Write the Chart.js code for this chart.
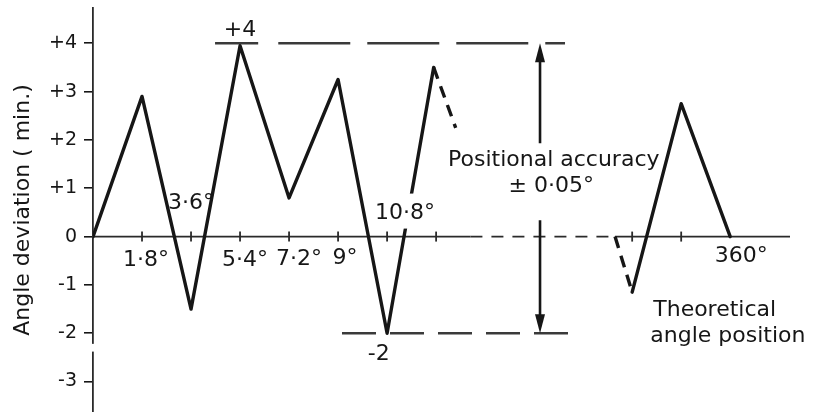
<!DOCTYPE html>
<html>
<head>
<meta charset="utf-8">
<script src="https://cdn.jsdelivr.net/npm/chart.js@4/dist/chart.umd.min.js"></script>
<style>
  html, body { margin: 0; padding: 0; background: #fff; }
  #wrap { width: 829px; height: 412px; position: relative; }
</style>
</head>
<body>
<div id="wrap"><canvas id="stepChart"></canvas></div>
<script>
// x positions are in 1.8° steps from the origin; 13 steps end at 360°
const firstRunX = [0, 1, 2, 3, 4, 5, 6, 6.95];
const firstRunY = [0, 2.9, -1.5, 3.95, 0.8, 3.25, -2, 3.5];
const fadeOutX = [6.95, 7.4];
const fadeOutY = [3.5, 2.25];
const fadeInX = [10.65, 11];
const fadeInY = [0, -1.15];
const lastRunX = [11, 12, 13];
const lastRunY = [-1.15, 2.75, 0];

const stepTicks = [1, 2, 3, 4, 5, 6, 7, 11, 12];
const degreeLabels = ['1·8°', '3·6°', '5·4°', '7·2°', '9°', '10·8°', '360°'];
const devTicks = [4, 3, 2, 1, 0, -1, -2, -3];

const upperLimit = 4;
const lowerLimit = -2;

function pts(xs, ys) {
    return xs.map((x, i) => ({ x: x, y: ys[i] }));
}

const FONT = '"DejaVu Sans", sans-serif';
const INK = '#161616';

const overlay = {
    id: 'overlay',
    beforeDatasetsDraw(chart) {
        const ctx = chart.ctx;
        const xs = chart.scales.x, ys = chart.scales.y;
        const X = v => xs.getPixelForValue(v);
        const Y = v => ys.getPixelForValue(v);
        const y0 = Y(0);

        ctx.save();
        ctx.strokeStyle = '#2a2a2a';
        ctx.lineWidth = 1.6;

        // abscissa: solid, broken (dashed) middle, solid again up to 360°
        ctx.beginPath();
        ctx.moveTo(X(0), y0); ctx.lineTo(X(7.7), y0);
        ctx.stroke();
        ctx.setLineDash([12, 9]);
        ctx.beginPath();
        ctx.moveTo(X(7.7), y0); ctx.lineTo(X(10.65), y0);
        ctx.stroke();
        ctx.setLineDash([]);
        ctx.beginPath();
        ctx.moveTo(X(10.65), y0); ctx.lineTo(X(14.22), y0);
        ctx.stroke();

        // step tick marks
        ctx.lineWidth = 1.8;
        stepTicks.forEach(t => {
            ctx.beginPath();
            ctx.moveTo(X(t), y0 - 5); ctx.lineTo(X(t), y0 + 5);
            ctx.stroke();
        });

        // small break in the ordinate below -2
        ctx.fillStyle = '#fff';
        ctx.fillRect(X(0) - 4, Y(-2.22), 8, Y(-2.38) - Y(-2.22));

        // accuracy band: +4 and -2 lines
        ctx.strokeStyle = '#3a3a3a';
        ctx.lineWidth = 2.4;
        ctx.beginPath();
        ctx.moveTo(X(2.49), Y(upperLimit)); ctx.lineTo(X(3.37), Y(upperLimit));
        ctx.stroke();
        ctx.setLineDash([72, 17]);
        ctx.beginPath();
        ctx.moveTo(X(3.78), Y(upperLimit)); ctx.lineTo(X(9.63), Y(upperLimit));
        ctx.stroke();
        ctx.setLineDash([34, 14]);
        ctx.beginPath();
        ctx.moveTo(X(5.08), Y(lowerLimit)); ctx.lineTo(X(9.73), Y(lowerLimit));
        ctx.stroke();
        ctx.setLineDash([]);

        // double arrow for the band, broken for its caption
        const ax = X(9.12);
        ctx.strokeStyle = INK;
        ctx.fillStyle = INK;
        ctx.lineWidth = 2.6;
        ctx.beginPath();
        ctx.moveTo(ax, Y(upperLimit) + 10); ctx.lineTo(ax, Y(1.93));
        ctx.moveTo(ax, Y(0.34)); ctx.lineTo(ax, Y(lowerLimit) - 10);
        ctx.stroke();
        [[Y(upperLimit), 1], [Y(lowerLimit), -1]].forEach(([tip, d]) => {
            ctx.beginPath();
            ctx.moveTo(ax, tip);
            ctx.lineTo(ax - 5, tip + d * 19);
            ctx.lineTo(ax + 5, tip + d * 19);
            ctx.closePath();
            ctx.fill();
        });
        ctx.restore();
    },
    afterDatasetsDraw(chart) {
        const ctx = chart.ctx;
        const xs = chart.scales.x, ys = chart.scales.y;
        const X = v => xs.getPixelForValue(v);
        const Y = v => ys.getPixelForValue(v);
        const y0 = Y(0);

        ctx.save();
        ctx.fillStyle = INK;
        ctx.font = '22px ' + FONT;
        ctx.textBaseline = 'middle';
        ctx.textAlign = 'center';

        // degree labels under / beside the steps
        const spots = [
            [X(1) + 4, y0 + 24], [X(2), y0 - 33], [X(3) + 5, y0 + 24],
            [X(4) + 10, y0 + 23], [X(5) + 7, y0 + 22], [X(6) + 18, y0 - 23],
            [X(13) + 11, y0 + 20]
        ];
        degreeLabels.forEach((txt, i) => {
            const [tx, ty] = spots[i];
            if (txt === '10·8°') {
                const w = ctx.measureText(txt).width;
                ctx.fillStyle = '#fff';
                ctx.fillRect(tx - w / 2 - 2, ty - 20, w + 4, 35);
                ctx.fillStyle = INK;
            }
            ctx.fillText(txt, tx, ty);
        });

        ctx.fillText('+' + upperLimit, X(3), Y(upperLimit) - 13);
        ctx.fillText(String(lowerLimit), X(5.83), Y(lowerLimit) + 21);

        ctx.fillText('Positional accuracy', X(9.4), Y(1.58));
        ctx.fillText('± 0·05°', X(9.35), Y(1.04));

        ctx.textAlign = 'left';
        ctx.fillText('Theoretical', X(11.43), Y(-1.52));
        ctx.fillText('angle position', X(11.37), Y(-2.07));
        ctx.restore();
    }
};

const solid = { borderColor: INK, borderWidth: 3.4, pointRadius: 0, tension: 0, borderJoinStyle: 'round', borderCapStyle: 'round' };
const dashed = Object.assign({}, solid, { borderDash: [12, 8], borderCapStyle: 'butt' });

new Chart(document.getElementById('stepChart'), {
    type: 'scatter',
    data: {
        datasets: [
            Object.assign({ data: pts(firstRunX, firstRunY), showLine: true }, solid),
            Object.assign({ data: pts(fadeOutX, fadeOutY), showLine: true }, dashed),
            Object.assign({ data: pts(fadeInX, fadeInY), showLine: true }, dashed),
            Object.assign({ data: pts(lastRunX, lastRunY), showLine: true }, solid)
        ]
    },
    options: {
        responsive: true,
        maintainAspectRatio: false,
        animation: false,
        events: [],
        layout: { padding: { left: 0, right: 39, top: 8, bottom: 0 } },
        plugins: { legend: { display: false }, tooltip: { enabled: false } },
        scales: {
            x: { type: 'linear', min: 0, max: 14.22, display: false },
            y: {
                min: -3.63,
                max: 4.73,
                afterFit: s => {
                    s.width = 93;
                    s.paddingTop = 0;
                    s.paddingBottom = 0;
                },
                afterBuildTicks: s => { s.ticks = devTicks.map(v => ({ value: v })); },
                ticks: {
                    color: INK,
                    padding: 7,
                    font: { family: FONT, size: 19 },
                    callback: v => v > 0 ? '+' + v : String(v)
                },
                grid: { drawOnChartArea: false, drawTicks: true, tickLength: 9, color: INK, lineWidth: 1.6 },
                border: { display: true, color: '#2a2a2a', width: 1.8 },
                title: {
                    display: true,
                    text: 'Angle deviation ( min.)',
                    color: INK,
                    font: { family: FONT, size: 22 },
                    padding: { top: 10, bottom: 0 }
                }
            }
        }
    },
    plugins: [overlay]
});
</script>
</body>
</html>
